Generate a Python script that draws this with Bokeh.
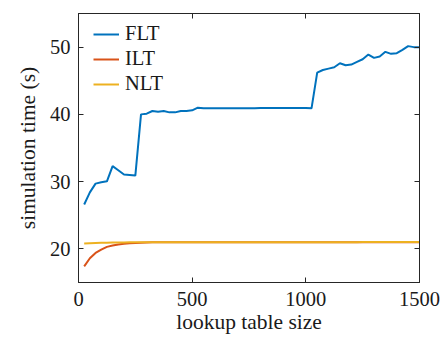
from bokeh.plotting import figure
from bokeh.models import LinearAxis, Legend, LegendItem, FixedTicker, Range1d
from bokeh.embed import file_html
from bokeh.resources import INLINE

# lookup table sizes
table_size = [25, 50, 75, 100, 125, 150, 175, 200, 225, 250,
              275, 300, 325, 350, 375, 400, 425, 450, 475, 500,
              525, 550, 575, 600, 625, 650, 675, 700, 725, 750,
              775, 800, 825, 850, 875, 900, 925, 950, 975, 1000,
              1025, 1050, 1075, 1100, 1125, 1150, 1175, 1200, 1225, 1250,
              1275, 1300, 1325, 1350, 1375, 1400, 1425, 1450, 1475, 1500]

# simulation times (s)
flt = [26.6, 28.4, 29.7, 29.9, 30.05, 32.3, 31.7, 31.05, 31.0, 30.9,
       40.0, 40.1, 40.5, 40.4, 40.5, 40.3, 40.3, 40.5, 40.5, 40.6,
       41.0, 40.9, 40.9, 40.9, 40.9, 40.9, 40.9, 40.9, 40.9, 40.9,
       40.9, 40.95, 40.95, 40.95, 40.95, 40.95, 40.95, 40.95, 40.95, 40.95,
       40.9, 46.2, 46.6, 46.8, 47.0, 47.6, 47.3, 47.4, 47.8, 48.2,
       48.9, 48.4, 48.6, 49.3, 49.0, 49.1, 49.6, 50.15, 50.0, 50.0]

ilt = [17.4, 18.6, 19.4, 19.9, 20.3, 20.5, 20.65, 20.75, 20.82, 20.88,
       20.92, 20.95, 20.97, 20.98, 20.99, 21.0, 21.0, 21.0, 21.0, 21.0,
       21.0, 21.0, 21.0, 21.0, 21.0, 21.0, 21.0, 21.0, 21.0, 21.0,
       21.0, 21.0, 21.0, 21.0, 21.0, 21.0, 21.0, 21.0, 21.0, 21.0,
       21.0, 21.0, 21.0, 21.0, 21.0, 21.0, 21.0, 21.0, 21.0, 21.0,
       21.0, 21.0, 21.0, 21.0, 21.0, 21.0, 21.0, 21.0, 21.0, 21.0]

nlt = [20.8, 20.85, 20.88, 20.9, 20.92, 20.94, 20.95, 20.96, 20.97, 20.98,
       20.99, 21.0, 21.0, 21.0, 21.0, 21.0, 21.0, 21.0, 21.0, 21.0,
       21.0, 21.0, 21.0, 21.0, 21.0, 21.0, 21.0, 21.0, 21.0, 21.0,
       21.0, 21.0, 21.0, 21.0, 21.0, 21.0, 21.0, 21.0, 21.0, 21.0,
       21.0, 21.0, 21.0, 21.0, 21.0, 21.0, 21.0, 21.0, 21.0, 21.02,
       21.02, 21.02, 21.03, 21.03, 21.02, 21.02, 21.02, 21.02, 21.02, 21.02]

x_ticks = [0, 500, 1000, 1500]
y_ticks = [20, 30, 40, 50]

FONT = "Liberation Serif"
AXIS_COLOR = "#262626"
TEXT_COLOR = "#1a1a1a"

p = figure(width=441, height=339, output_backend="svg", toolbar_location=None,
           x_range=Range1d(0, 1500), y_range=Range1d(15, 55),
           min_border_left=78, min_border_right=22, min_border_top=13,
           min_border_bottom=57)
p.xgrid.visible = False
p.ygrid.visible = False
p.outline_line_color = AXIS_COLOR
p.outline_line_width = 1

r_flt = p.line(table_size, flt, line_color="#0072BD", line_width=2)
r_ilt = p.line(table_size, ilt, line_color="#D95319", line_width=2)
r_nlt = p.line(table_size, nlt, line_color="#EDB120", line_width=2)


def style_axis(ax, ticks, show_labels):
    ax.ticker = FixedTicker(ticks=ticks)
    ax.axis_line_color = AXIS_COLOR
    ax.major_tick_line_color = AXIS_COLOR
    ax.major_tick_in = 5
    ax.major_tick_out = 0
    ax.minor_tick_line_color = None
    ax.major_label_text_font = FONT
    ax.major_label_text_font_size = "20.5px"
    ax.major_label_text_color = TEXT_COLOR if show_labels else None
    ax.axis_label_text_font = FONT
    ax.axis_label_text_font_size = "21.5px"
    ax.axis_label_text_font_style = "normal"
    ax.axis_label_text_color = TEXT_COLOR


style_axis(p.xaxis[0], x_ticks, True)
style_axis(p.yaxis[0], y_ticks, True)
p.xaxis[0].axis_label = "lookup table size"
p.yaxis[0].axis_label = "simulation time (s)"
p.xaxis[0].major_label_standoff = 9
p.yaxis[0].major_label_standoff = 8
p.xaxis[0].axis_label_standoff = 1
p.yaxis[0].axis_label_standoff = 7

top_axis = LinearAxis()
right_axis = LinearAxis()
style_axis(top_axis, x_ticks, False)
style_axis(right_axis, y_ticks, False)
top_axis.major_label_text_font_size = "0px"
right_axis.major_label_text_font_size = "0px"
p.add_layout(top_axis, "above")
p.add_layout(right_axis, "right")

legend = Legend(items=[LegendItem(label="FLT", renderers=[r_flt]),
                       LegendItem(label="ILT", renderers=[r_ilt]),
                       LegendItem(label="NLT", renderers=[r_nlt])],
                location=(15, 187), padding=0, margin=0, spacing=2,
                glyph_width=26, glyph_height=20, label_height=20,
                label_standoff=6,
                label_text_font=FONT, label_text_font_size="20.5px",
                label_text_color=TEXT_COLOR,
                background_fill_alpha=0, border_line_color=None)
p.add_layout(legend, "center")

open("out.html", "w").write(file_html(p, INLINE))
